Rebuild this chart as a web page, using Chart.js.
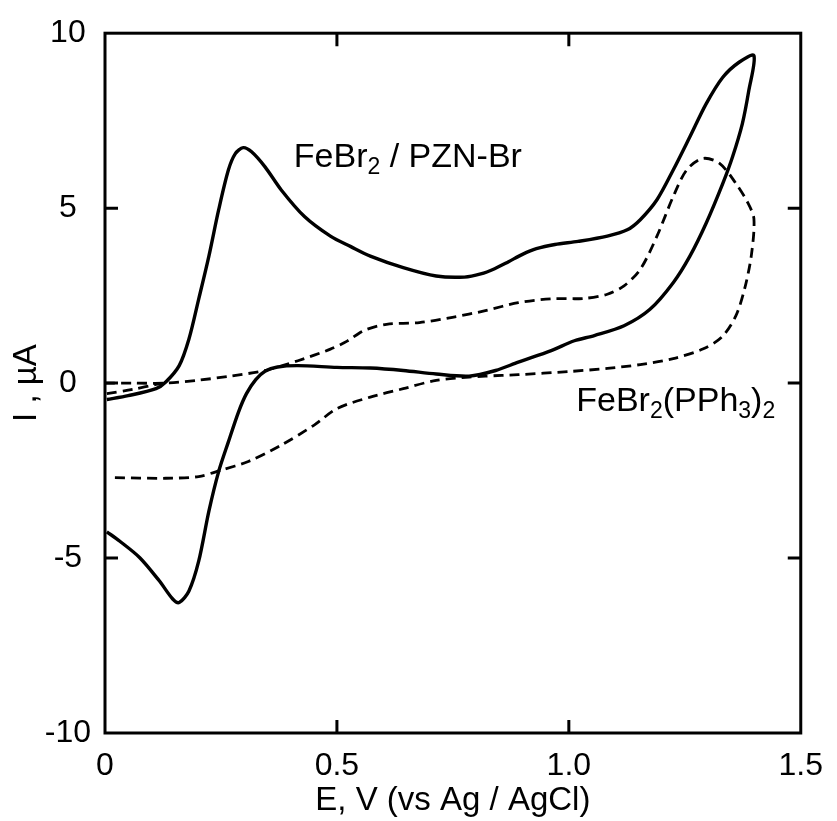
<!DOCTYPE html>
<html>
<head>
<meta charset="utf-8">
<script src="https://cdn.jsdelivr.net/npm/chart.js@4/dist/chart.umd.min.js"></script>
<style>
  html, body { margin: 0; padding: 0; background: #fff; }
  #wrap { width: 837px; height: 821px; }
</style>
</head>
<body>
<div id="wrap"><canvas id="cv" width="837" height="821"></canvas></div>
<script>
// ---- data (E in V vs Ag/AgCl, I in uA) ----
const xTicks = [0, 0.5, 1.0, 1.5];
const yTicks = [-10, -5, 0, 5, 10];

// FeBr2 / PZN-Br, solid: forward sweep to 1.4 V then back
const pznE = [0.004, 0.05, 0.11, 0.131, 0.16, 0.181, 0.202, 0.224, 0.245, 0.266, 0.281, 0.298, 0.316, 0.345, 0.38, 0.43, 0.486, 0.53, 0.572, 0.643, 0.714, 0.775, 0.81, 0.84, 0.87, 0.90, 0.93, 0.97, 1.02, 1.083, 1.126, 1.154, 1.19, 1.225, 1.261, 1.296, 1.332, 1.367, 1.399,
              1.388, 1.374, 1.353, 1.332, 1.296, 1.261, 1.225, 1.175, 1.119, 1.055, 1.012, 0.962, 0.891, 0.842, 0.785, 0.714, 0.643, 0.572, 0.5, 0.416, 0.372, 0.345, 0.325, 0.305, 0.288, 0.266, 0.245, 0.224, 0.202, 0.181, 0.16, 0.146, 0.117, 0.075, 0.032, 0.004];
const pznI = [-0.47, -0.36, -0.16, 0.03, 0.5, 1.26, 2.4, 3.63, 4.95, 6.09, 6.56, 6.73, 6.61, 6.18, 5.52, 4.76, 4.2, 3.9, 3.63, 3.3, 3.06, 3.03, 3.12, 3.27, 3.47, 3.68, 3.84, 3.96, 4.05, 4.2, 4.38, 4.67, 5.24, 6.09, 7.04, 7.98, 8.74, 9.17, 9.36,
              8.36, 7.41, 6.47, 5.71, 4.57, 3.63, 2.87, 2.11, 1.64, 1.36, 1.21, 0.93, 0.6, 0.36, 0.2, 0.26, 0.36, 0.43, 0.45, 0.5, 0.46, 0.34, 0.1, -0.3, -0.82, -1.68, -2.53, -3.66, -5.09, -5.94, -6.27, -6.17, -5.65, -4.99, -4.52, -4.25];

// FeBr2(PPh3)2, dashed
const pphE = [0.0, 0.06, 0.13, 0.2, 0.27, 0.345, 0.416, 0.486, 0.522, 0.558, 0.607, 0.678, 0.749, 0.82, 0.891, 0.962, 1.033, 1.083, 1.119, 1.154, 1.19, 1.225, 1.254, 1.289, 1.325, 1.36, 1.386, 1.399,
              1.394, 1.38, 1.36, 1.33, 1.29, 1.225, 1.154, 1.083, 1.0, 0.891, 0.82, 0.785, 0.714, 0.643, 0.572, 0.5, 0.451, 0.38, 0.309, 0.252, 0.202, 0.131, 0.018];
const pphI = [0.0, 0.0, 0.0, 0.08, 0.2, 0.36, 0.64, 0.97, 1.2, 1.5, 1.68, 1.73, 1.88, 2.07, 2.3, 2.41, 2.42, 2.54, 2.78, 3.25, 4.2, 5.33, 6.09, 6.42, 6.28, 5.71, 5.15, 4.7,
              3.7, 2.75, 1.92, 1.32, 0.98, 0.7, 0.53, 0.42, 0.33, 0.24, 0.2, 0.17, 0.08, -0.16, -0.4, -0.73, -1.2, -1.77, -2.24, -2.48, -2.67, -2.72, -2.7];
// short second trace of the dashed curve at the start
const pphStartE = [0.004, 0.06, 0.11, 0.13];
const pphStartI = [-0.3, -0.18, -0.04, 0.0];

const curveLabels = [
    { parts: [['FeBr', false], ['2', true], [' / PZN-Br', false]], e: 0.407, i: 6.19 },
    { parts: [['FeBr', false], ['2', true], ['(PPh', false], ['3', true], [')', false], ['2', true]], e: 1.016, i: -0.8 }
];

const FONT = '"Liberation Sans", Arial, sans-serif';

function toPoints(xs, ys) {
    return xs.map((x, k) => ({ x: x, y: ys[k] }));
}

// frame and inward tick marks
const framePlugin = {
    id: 'frame',
    afterDraw(chart) {
        const { ctx, chartArea: a, scales } = chart;
        const len = 13;
        ctx.save();
        ctx.strokeStyle = '#000';
        ctx.lineWidth = 3;
        ctx.strokeRect(a.left, a.top, a.right - a.left, a.bottom - a.top);
        ctx.beginPath();
        xTicks.slice(1, -1).forEach(v => {
            const px = scales.x.getPixelForValue(v);
            ctx.moveTo(px, a.bottom); ctx.lineTo(px, a.bottom - len);
            ctx.moveTo(px, a.top); ctx.lineTo(px, a.top + len);
        });
        yTicks.slice(1, -1).forEach(v => {
            const py = scales.y.getPixelForValue(v);
            ctx.moveTo(a.left, py); ctx.lineTo(a.left + len, py);
            ctx.moveTo(a.right, py); ctx.lineTo(a.right - len, py);
        });
        ctx.stroke();
        ctx.restore();
    }
};

// curve names with subscripts
const labelPlugin = {
    id: 'curveLabels',
    afterDraw(chart) {
        const { ctx, scales } = chart;
        ctx.save();
        ctx.fillStyle = '#000';
        ctx.textBaseline = 'alphabetic';
        ctx.textAlign = 'left';
        curveLabels.forEach(lb => {
            let x = scales.x.getPixelForValue(lb.e);
            const y = scales.y.getPixelForValue(lb.i);
            lb.parts.forEach(([t, sub]) => {
                ctx.font = (sub ? '23px ' : '34px ') + FONT;
                ctx.fillText(t, x, sub ? y + 7 : y);
                x += ctx.measureText(t).width;
            });
        });
        ctx.restore();
    }
};

new Chart(document.getElementById('cv'), {
    type: 'scatter',
    data: {
        datasets: [
            { data: toPoints(pznE, pznI), showLine: true, borderColor: '#000', borderWidth: 3.4, pointRadius: 0, tension: 0.3, fill: false },
            { data: toPoints(pphE, pphI), showLine: true, borderColor: '#000', borderWidth: 2.8, borderDash: [10, 6], pointRadius: 0, tension: 0.3, fill: false },
            { data: toPoints(pphStartE, pphStartI), showLine: true, borderColor: '#000', borderWidth: 2.8, borderDash: [10, 6], pointRadius: 0, tension: 0.3, fill: false }
        ]
    },
    options: {
        responsive: false,
        animation: false,
        devicePixelRatio: 1,
        layout: { padding: { top: 29, right: 28, left: 0, bottom: 0 } },
        plugins: { legend: { display: false }, tooltip: { enabled: false } },
        scales: {
            x: {
                type: 'linear', min: 0, max: 1.5,
                afterBuildTicks: s => { s.ticks = xTicks.map(v => ({ value: v })); },
                afterFit: s => { s.height = 88; },
                grid: { display: false, drawTicks: false },
                border: { display: false },
                ticks: {
                    padding: 14, color: '#000', maxRotation: 0,
                    font: { family: FONT, size: 32 },
                    callback: v => v === 0 ? '0' : v.toFixed(1)
                },
                title: { display: true, text: 'E, V (vs Ag / AgCl)', color: '#000', font: { family: FONT, size: 33 }, padding: { top: 0, bottom: 0 } }
            },
            y: {
                type: 'linear', min: -10, max: 10,
                afterBuildTicks: s => { s.ticks = yTicks.map(v => ({ value: v })); },
                afterFit: s => { s.width = 105; },
                grid: { display: false, drawTicks: false },
                border: { display: false },
                ticks: {
                    padding: 14, color: '#000', crossAlign: 'center',
                    font: { family: FONT, size: 32 },
                    callback: v => String(v)
                },
                title: { display: true, text: 'I , µA', color: '#000', font: { family: FONT, size: 33 }, padding: { top: 7, bottom: 0 } }
            }
        }
    },
    plugins: [framePlugin, labelPlugin]
});
</script>
</body>
</html>
